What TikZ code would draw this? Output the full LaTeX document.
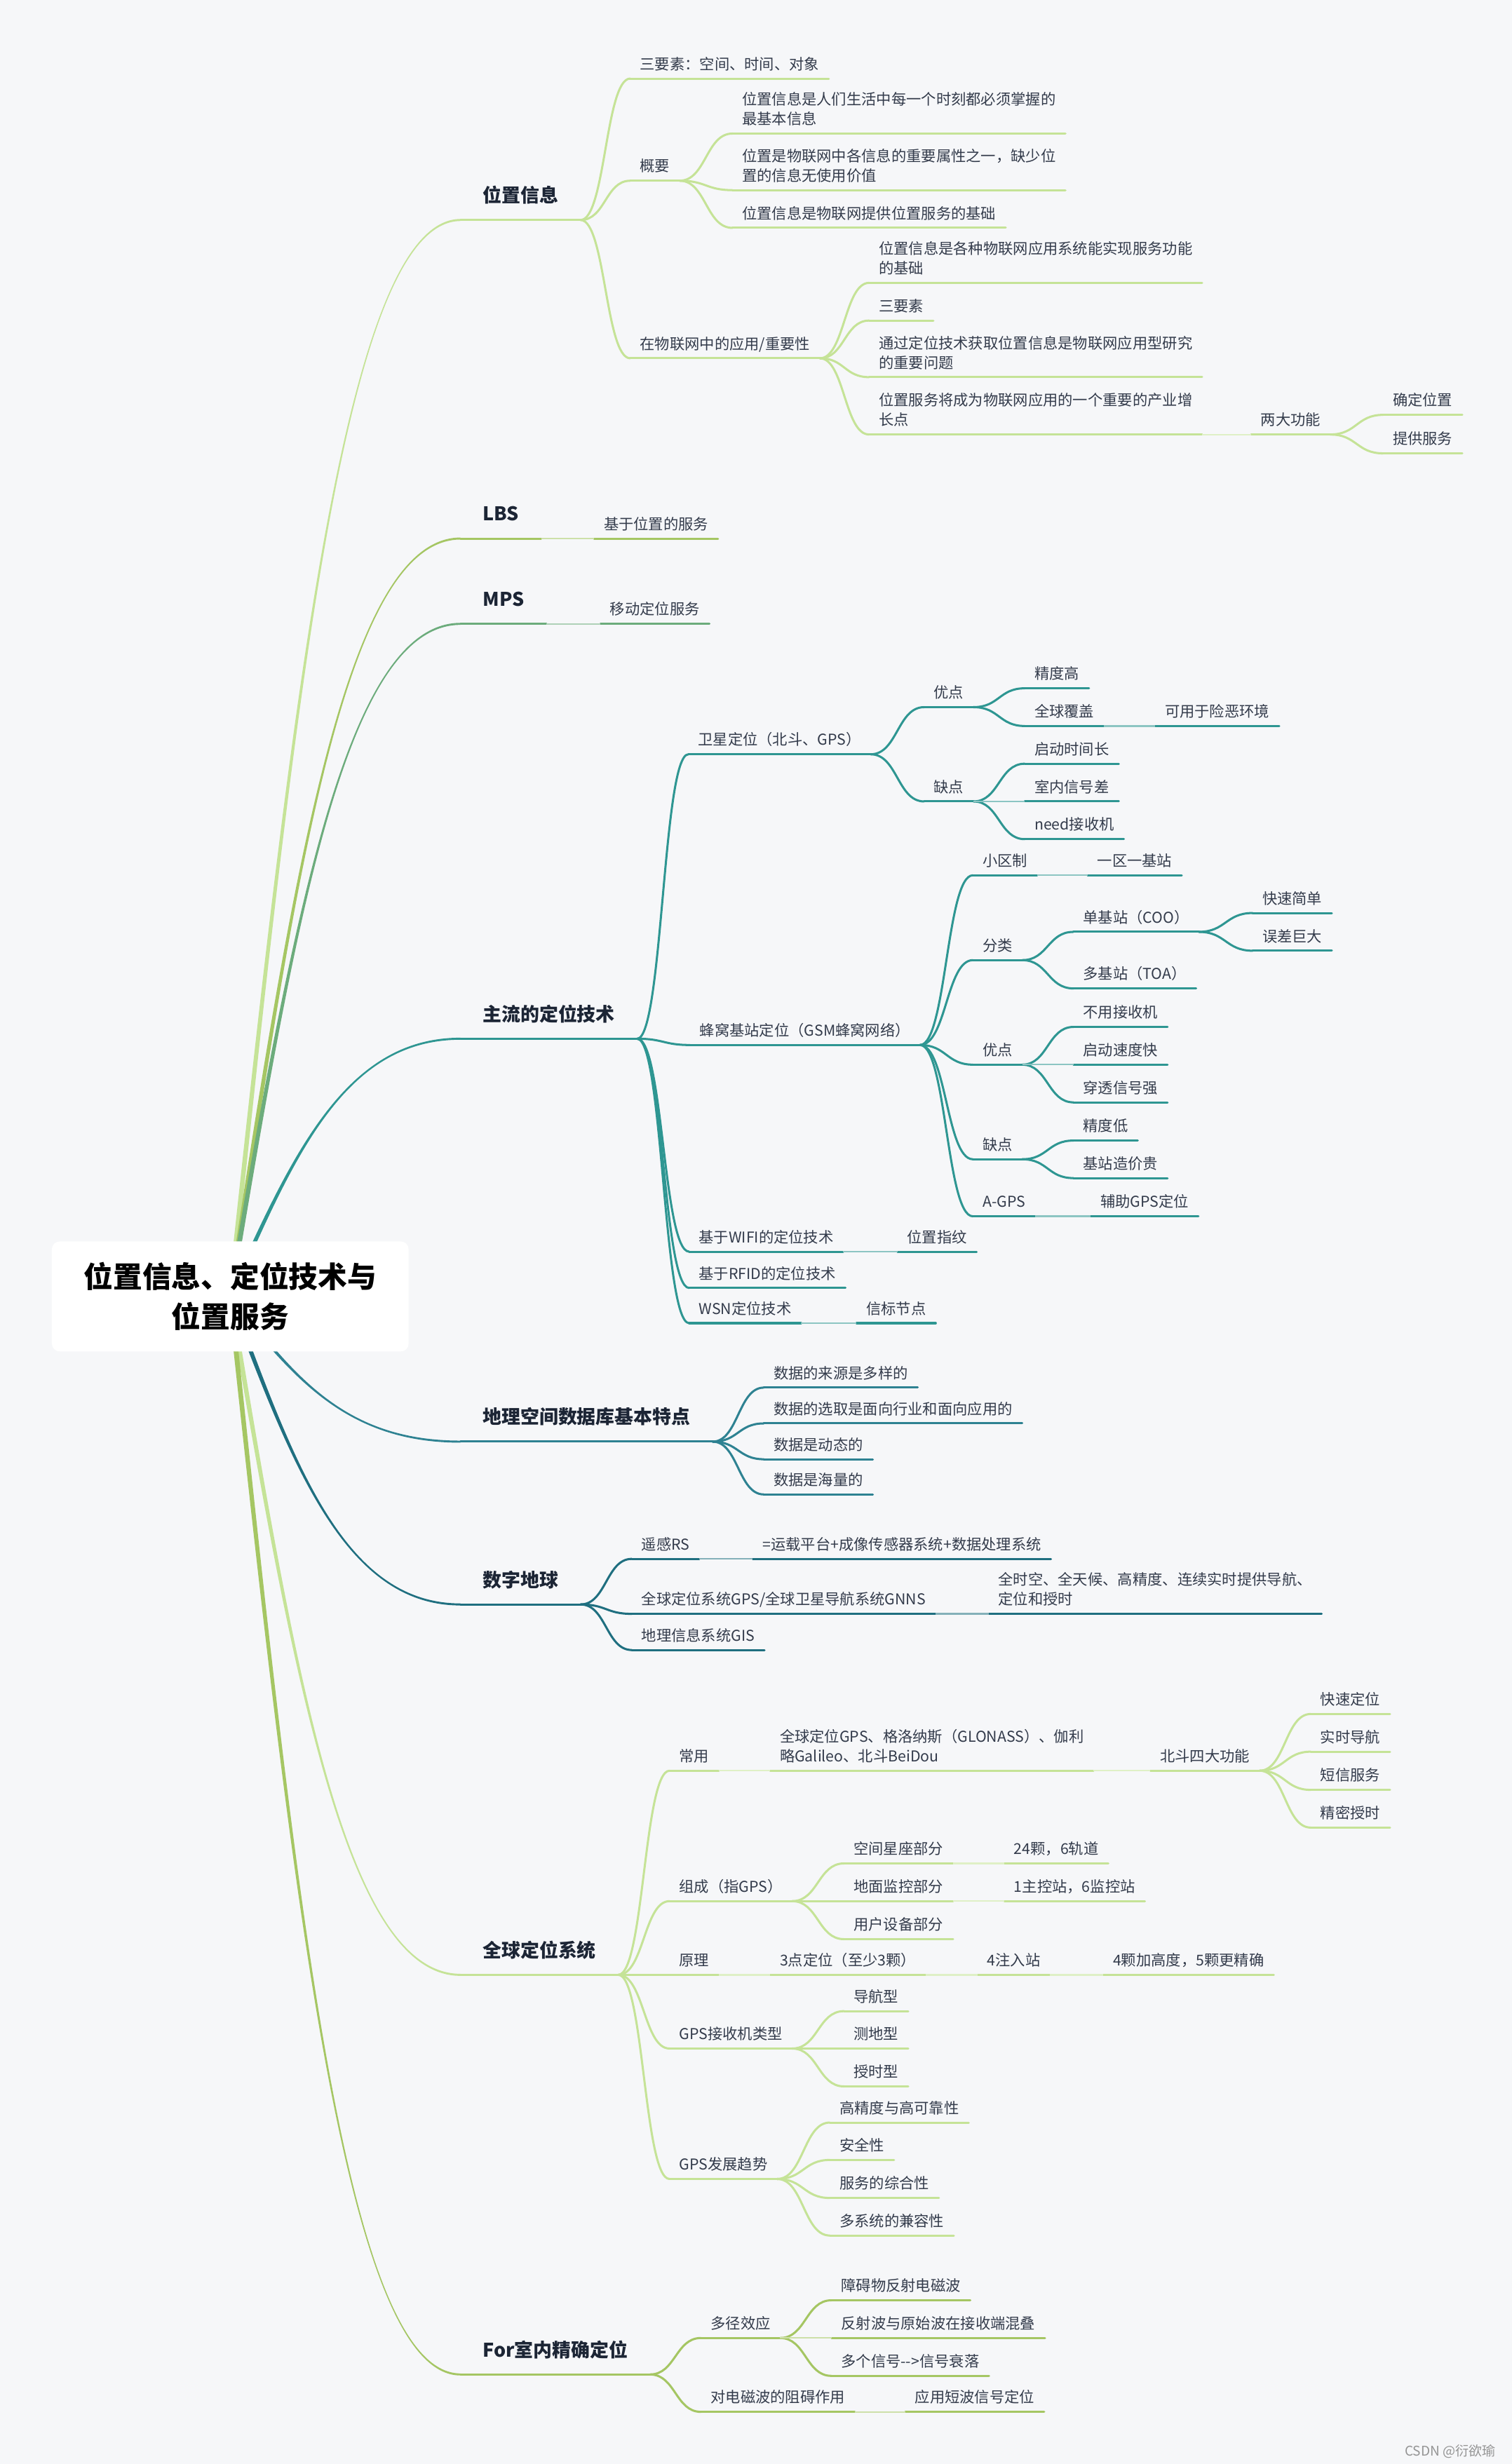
\documentclass[tikz,border=0pt]{standalone}
\usepackage{fontspec}
\setmainfont{Noto Sans CJK SC}
\usetikzlibrary{calc}

\definecolor{bgc}{HTML}{F6F7F9}
\definecolor{cA}{HTML}{C5E397}
\definecolor{cB}{HTML}{A5C663}
\definecolor{cC}{HTML}{6CAC7C}
\definecolor{cD}{HTML}{2E9692}
\definecolor{cE}{HTML}{2E8292}
\definecolor{cF}{HTML}{1F6F80}
\definecolor{leafc}{HTML}{333B4B}
\definecolor{mainc}{HTML}{1C2535}
\colorlet{brc}{cA}

\newcommand\txtleaf{\fontsize{9.5}{12.5}\selectfont}
\newcommand\txtmain{\bfseries\fontsize{12}{14}\selectfont}
\newcommand\txtroot{\bfseries\fontsize{18.6}{25.3}\selectfont}

\pgfdeclarelayer{back}
\pgfsetlayers{back,main}

% band from the root to one main topic, thick at the root
\newcommand\rootlink[2]{%
  \fill[fill=#1] let \p1=(root.center), \p2=(#2.south west), \n1={0.65*(\y2-\y1)/abs(\y2-\y1)} in
    ({\x1-1.6pt},\y1) .. controls ({\x1+39pt},{\y1+0.55*(\y2-\y1)}) and ({\x1+73pt},{\y2+\n1*1pt}) .. ({\x2},{\y2+\n1*1pt})
    -- ({\x2},{\y2-\n1*1pt}) .. controls ({\x1+73pt},{\y2-\n1*1pt}) and ({\x1+41pt},{\y1+0.55*(\y2-\y1)}) .. ({\x1+1.6pt},\y1) -- cycle;}

\begin{document}
\begin{tikzpicture}[x=1pt, y=-1pt,
    leaf/.style={anchor=south west, inner xsep=6pt, inner ysep=3.5pt, text depth=2pt, align=left, font=\txtleaf, text=leafc},
    topic/.style={anchor=south west, inner xsep=14pt, inner ysep=9pt, text depth=2pt, font=\txtmain, text=mainc},
    ul/.style={draw=brc, line width=1.35pt, line cap=round},
    chain/.style={draw=brc!55!white, line width=1pt},
    scurve/.style={to path={let \p1=(\tikztostart), \p2=(\tikztotarget) in
      .. controls ({0.5*\x1+0.5*\x2},\y1) and ({0.5*\x1+0.5*\x2},\y2) .. (\p2)}}]

  \useasboundingbox (0,0) rectangle (962,1568);
  \begin{pgfonlayer}{back}
    \fill[bgc] (0,0) rectangle (962,1568);
  \end{pgfonlayer}

  \node[fill=white, rounded corners=5pt, minimum width=227pt, minimum height=70pt,
    align=center, font=\txtroot, text=black] (root) at (146.5,825) {位置信息、定位技术与\\位置服务};

  % 位置信息
  \begin{scope}
    \colorlet{brc}{cA}
    \node[topic] (b1) at (293,140) {位置信息};
    \node[leaf] (b1a) at (401,50) {三要素：空间、时间、对象};
    \node[leaf] (b1b) at (401,115) {概要};
    \node[leaf] (b1b1) at (466,85) {位置信息是人们生活中每一个时刻都必须掌握的\\最基本信息};
    \node[leaf] (b1b2) at (466,121) {位置是物联网中各信息的重要属性之一，缺少位\\置的信息无使用价值};
    \node[leaf] (b1b3) at (466,145) {位置信息是物联网提供位置服务的基础};
    \node[leaf] (b1c) at (401,228) {在物联网中的应用/重要性};
    \node[leaf] (b1c1) at (553,180) {位置信息是各种物联网应用系统能实现服务功能\\的基础};
    \node[leaf] (b1c2) at (553,204) {三要素};
    \node[leaf] (b1c3) at (553,240) {通过定位技术获取位置信息是物联网应用型研究\\的重要问题};
    \node[leaf] (b1c4) at (553,276.5) {位置服务将成为物联网应用的一个重要的产业增\\长点};
    \node[leaf] (b1c4a) at (796,276.5) {两大功能};
    \node[leaf] (b1c4a1) at (880,264) {确定位置};
    \node[leaf] (b1c4a2) at (880,288.5) {提供服务};
    \foreach \n in {b1,b1a,b1b,b1b1,b1b2,b1b3,b1c,b1c1,b1c2,b1c3,b1c4,b1c4a,b1c4a1,b1c4a2}
      \draw[ul] (\n.south west) -- (\n.south east);
    \foreach \u/\v in {b1/b1a,b1/b1b,b1/b1c,b1b/b1b1,b1b/b1b2,b1b/b1b3,b1c/b1c1,b1c/b1c2,b1c/b1c3,b1c/b1c4,b1c4a/b1c4a1,b1c4a/b1c4a2}
      \draw[ul] (\u.south east) to[scurve] (\v.south west);
    \draw[chain] (b1c4.south east) -- (b1c4a.south west);
  \end{scope}

  % LBS, MPS
  \begin{scope}
    \colorlet{brc}{cB}
    \node[topic] (b2) at (293,342.7) {LBS};
    \node[leaf] (b2a) at (378,342.7) {基于位置的服务};
    \foreach \n in {b2,b2a} \draw[ul] (\n.south west) -- (\n.south east);
    \draw[chain] (b2.south east) -- (b2a.south west);
  \end{scope}
  \begin{scope}
    \colorlet{brc}{cC}
    \node[topic] (b3) at (293,397) {MPS};
    \node[leaf] (b3a) at (382,397) {移动定位服务};
    \foreach \n in {b3,b3a} \draw[ul] (\n.south west) -- (\n.south east);
    \draw[chain] (b3.south east) -- (b3a.south west);
  \end{scope}

  % 主流的定位技术
  \begin{scope}
    \colorlet{brc}{cD}
    \node[topic] (b4) at (293,661) {主流的定位技术};
    \node[leaf] (b4a) at (438,480) {卫星定位（北斗、GPS）};
    \node[leaf] (b4a1) at (588,450) {优点};
    \node[leaf] (b4a1a) at (652,438) {精度高};
    \node[leaf] (b4a1b) at (652,462) {全球覆盖};
    \node[leaf] (b4a1b1) at (735,462) {可用于险恶环境};
    \node[leaf] (b4a2) at (588,510) {缺点};
    \node[leaf] (b4a2a) at (652,486) {启动时间长};
    \node[leaf] (b4a2b) at (652,510) {室内信号差};
    \node[leaf] (b4a2c) at (652,534) {need接收机};
    \node[leaf] (b4b) at (439,665) {蜂窝基站定位（GSM蜂窝网络）};
    \node[leaf] (b4b1) at (619,557) {小区制};
    \node[leaf] (b4b1a) at (692,557) {一区一基站};
    \node[leaf] (b4b2) at (619,611) {分类};
    \node[leaf] (b4b2a) at (683,593) {单基站（COO）};
    \node[leaf] (b4b2a1) at (797,581) {快速简单};
    \node[leaf] (b4b2a2) at (797,605) {误差巨大};
    \node[leaf] (b4b2b) at (683,629) {多基站（TOA）};
    \node[leaf] (b4b3) at (619,677.5) {优点};
    \node[leaf] (b4b3a) at (683,653.5) {不用接收机};
    \node[leaf] (b4b3b) at (683,677.5) {启动速度快};
    \node[leaf] (b4b3c) at (683,701.5) {穿透信号强};
    \node[leaf] (b4b4) at (619,737.7) {缺点};
    \node[leaf] (b4b4a) at (683,725.8) {精度低};
    \node[leaf] (b4b4b) at (683,749.7) {基站造价贵};
    \node[leaf] (b4b5) at (619,774) {A-GPS};
    \node[leaf] (b4b5a) at (694,774) {辅助GPS定位};
    \node[leaf] (b4c) at (438.5,796.5) {基于WIFI的定位技术};
    \node[leaf] (b4c1) at (571,796.5) {位置指纹};
    \node[leaf] (b4d) at (438.5,819.6) {基于RFID的定位技术};
    \node[leaf] (b4e) at (438.5,842) {WSN定位技术};
    \node[leaf] (b4e1) at (545,842) {信标节点};
    \foreach \n in {b4,b4a,b4a1,b4a1a,b4a1b,b4a1b1,b4a2,b4a2a,b4a2b,b4a2c,b4b,b4b1,b4b1a,b4b2,b4b2a,b4b2a1,b4b2a2,b4b2b,
        b4b3,b4b3a,b4b3b,b4b3c,b4b4,b4b4a,b4b4b,b4b5,b4b5a,b4c,b4c1,b4d,b4e,b4e1}
      \draw[ul] (\n.south west) -- (\n.south east);
    \foreach \u/\v in {b4/b4a,b4/b4b,b4/b4c,b4/b4d,b4/b4e,b4a/b4a1,b4a/b4a2,b4a1/b4a1a,b4a1/b4a1b,b4a2/b4a2a,b4a2/b4a2c,
        b4b/b4b1,b4b/b4b2,b4b/b4b3,b4b/b4b4,b4b/b4b5,b4b2/b4b2a,b4b2/b4b2b,b4b2a/b4b2a1,b4b2a/b4b2a2,
        b4b3/b4b3a,b4b3/b4b3c,b4b4/b4b4a,b4b4/b4b4b}
      \draw[ul] (\u.south east) to[scurve] (\v.south west);
    \foreach \u/\v in {b4a1b/b4a1b1,b4a2/b4a2b,b4b1/b4b1a,b4b3/b4b3b,b4b5/b4b5a,b4c/b4c1,b4e/b4e1}
      \draw[chain] (\u.south east) -- (\v.south west);
  \end{scope}

  % 地理空间数据库基本特点
  \begin{scope}
    \colorlet{brc}{cE}
    \node[topic] (b5) at (293,917.4) {地理空间数据库基本特点};
    \node[leaf] (b5a) at (486,883) {数据的来源是多样的};
    \node[leaf] (b5b) at (486,905.8) {数据的选取是面向行业和面向应用的};
    \node[leaf] (b5c) at (486,928.6) {数据是动态的};
    \node[leaf] (b5d) at (486,951) {数据是海量的};
    \foreach \n in {b5,b5a,b5b,b5c,b5d} \draw[ul] (\n.south west) -- (\n.south east);
    \foreach \v in {b5a,b5b,b5c,b5d} \draw[ul] (b5.south east) to[scurve] (\v.south west);
  \end{scope}

  % 数字地球
  \begin{scope}
    \colorlet{brc}{cF}
    \node[topic] (b6) at (293,1021) {数字地球};
    \node[leaf] (b6a) at (402,992) {遥感RS};
    \node[leaf] (b6a1) at (479,992) {=运载平台+成像传感器系统+数据处理系统};
    \node[leaf] (b6b) at (402,1027) {全球定位系统GPS/全球卫星导航系统GNNS};
    \node[leaf] (b6b1) at (629,1027) {全时空、全天候、高精度、连续实时提供导航、\\定位和授时};
    \node[leaf] (b6c) at (402,1050) {地理信息系统GIS};
    \foreach \n in {b6,b6a,b6a1,b6b,b6b1,b6c} \draw[ul] (\n.south west) -- (\n.south east);
    \foreach \v in {b6a,b6b,b6c} \draw[ul] (b6.south east) to[scurve] (\v.south west);
    \foreach \u/\v in {b6a/b6a1,b6b/b6b1} \draw[chain] (\u.south east) -- (\v.south west);
  \end{scope}

  % 全球定位系统
  \begin{scope}
    \colorlet{brc}{cA}
    \node[topic] (b7) at (293,1256.7) {全球定位系统};
    \node[leaf] (b7a) at (426,1126.8) {常用};
    \node[leaf] (b7a1) at (490,1126.8) {全球定位GPS、格洛纳斯（GLONASS）、伽利\\略Galileo、北斗BeiDou};
    \node[leaf] (b7a1a) at (732,1126.8) {北斗四大功能};
    \node[leaf] (b7a1a1) at (834,1090.7) {快速定位};
    \node[leaf] (b7a1a2) at (834,1114.7) {实时导航};
    \node[leaf] (b7a1a3) at (834,1139) {短信服务};
    \node[leaf] (b7a1a4) at (834,1163) {精密授时};
    \node[leaf] (b7b) at (426,1209.8) {组成（指GPS）};
    \node[leaf] (b7b1) at (537,1185.8) {空间星座部分};
    \node[leaf] (b7b1a) at (639,1185.8) {24颗，6轨道};
    \node[leaf] (b7b2) at (537,1209.8) {地面监控部分};
    \node[leaf] (b7b2a) at (639,1209.8) {1主控站，6监控站};
    \node[leaf] (b7b3) at (537,1234) {用户设备部分};
    \node[leaf] (b7c) at (426,1256.7) {原理};
    \node[leaf] (b7c1) at (490,1256.7) {3点定位（至少3颗）};
    \node[leaf] (b7c1a) at (622,1256.7) {4注入站};
    \node[leaf] (b7c1a1) at (702,1256.7) {4颗加高度，5颗更精确};
    \node[leaf] (b7d) at (426,1303.6) {GPS接收机类型};
    \node[leaf] (b7d1) at (537,1279.8) {导航型};
    \node[leaf] (b7d2) at (537,1303.6) {测地型};
    \node[leaf] (b7d3) at (537,1327.7) {授时型};
    \node[leaf] (b7e) at (426,1386.6) {GPS发展趋势};
    \node[leaf] (b7e1) at (528,1350.7) {高精度与高可靠性};
    \node[leaf] (b7e2) at (528,1374.5) {安全性};
    \node[leaf] (b7e3) at (528,1398.7) {服务的综合性};
    \node[leaf] (b7e4) at (528,1422.6) {多系统的兼容性};
    \foreach \n in {b7,b7a,b7a1,b7a1a,b7a1a1,b7a1a2,b7a1a3,b7a1a4,b7b,b7b1,b7b1a,b7b2,b7b2a,b7b3,
        b7c,b7c1,b7c1a,b7c1a1,b7d,b7d1,b7d2,b7d3,b7e,b7e1,b7e2,b7e3,b7e4}
      \draw[ul] (\n.south west) -- (\n.south east);
    \foreach \u/\v in {b7/b7a,b7/b7b,b7/b7c,b7/b7d,b7/b7e,b7a1a/b7a1a1,b7a1a/b7a1a2,b7a1a/b7a1a3,b7a1a/b7a1a4,
        b7b/b7b1,b7b/b7b2,b7b/b7b3,b7d/b7d1,b7d/b7d2,b7d/b7d3,b7e/b7e1,b7e/b7e2,b7e/b7e3,b7e/b7e4}
      \draw[ul] (\u.south east) to[scurve] (\v.south west);
    \foreach \u/\v in {b7a/b7a1,b7a1/b7a1a,b7b1/b7b1a,b7b2/b7b2a,b7c/b7c1,b7c1/b7c1a,b7c1a/b7c1a1}
      \draw[chain] (\u.south east) -- (\v.south west);
  \end{scope}

  % For室内精确定位
  \begin{scope}
    \colorlet{brc}{cB}
    \node[topic] (b8) at (293,1511) {For室内精确定位};
    \node[leaf] (b8a) at (446,1487.8) {多径效应};
    \node[leaf] (b8a1) at (529,1463.8) {障碍物反射电磁波};
    \node[leaf] (b8a2) at (529,1487.8) {反射波与原始波在接收端混叠};
    \node[leaf] (b8a3) at (529,1511.9) {多个信号-{}->信号衰落};
    \node[leaf] (b8b) at (446,1534.8) {对电磁波的阻碍作用};
    \node[leaf] (b8b1) at (576,1534.8) {应用短波信号定位};
    \foreach \n in {b8,b8a,b8a1,b8a2,b8a3,b8b,b8b1} \draw[ul] (\n.south west) -- (\n.south east);
    \foreach \u/\v in {b8/b8a,b8/b8b,b8a/b8a1,b8a/b8a3} \draw[ul] (\u.south east) to[scurve] (\v.south west);
    \foreach \u/\v in {b8a/b8a2,b8b/b8b1} \draw[chain] (\u.south east) -- (\v.south west);
  \end{scope}

  % root curves
  \begin{pgfonlayer}{back}
    \foreach \t/\c in {b1/cA,b2/cB,b3/cC,b4/cD,b5/cE,b6/cF,b7/cA,b8/cB}
      \rootlink{\c}{\t};
  \end{pgfonlayer}

  \node[anchor=east, font=\fontsize{8.5}{10}\selectfont, text=black!42] (wm) at (955,1560) {CSDN @衍欲瑜};
\end{tikzpicture}
\end{document}
